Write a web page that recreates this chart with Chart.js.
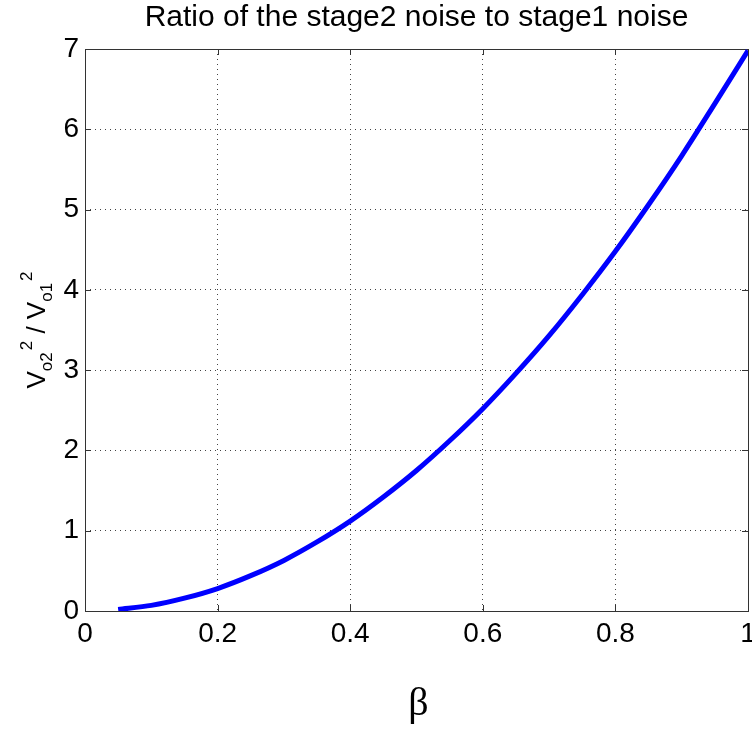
<!DOCTYPE html>
<html>
<head>
<meta charset="utf-8">
<script src="https://cdn.jsdelivr.net/npm/chart.js@4.4.0/dist/chart.umd.min.js"></script>
<style>
    html, body { margin: 0; padding: 0; background: #fff; }
    #wrap { width: 752px; height: 747px; }
</style>
</head>
<body>
<div id="wrap"><canvas id="chart-noise-ratio"></canvas></div>
<script>
const titleText = 'Ratio of the stage2 noise to stage1 noise';
const xTitle = 'β';

const beta = [0.05, 0.10, 0.15, 0.20, 0.25, 0.30, 0.35, 0.40, 0.45, 0.50,
              0.55, 0.60, 0.65, 0.70, 0.75, 0.80, 0.85, 0.90, 0.95, 1.00];
const ratio = [0.02, 0.07, 0.16, 0.28, 0.44, 0.63, 0.86, 1.12, 1.42, 1.75,
               2.12, 2.52, 2.96, 3.43, 3.94, 4.48, 5.06, 5.67, 6.32, 6.98];

const xTicks = [0, 0.2, 0.4, 0.6, 0.8, 1];
const yTicks = [0, 1, 2, 3, 4, 5, 6, 7];

const SANS = '"Liberation Sans", Arial, sans-serif';
const SERIF = '"Liberation Serif", "Times New Roman", serif';

// box round the axes with short inward ticks on every side
const framePlugin = {
    id: 'frame',
    beforeDatasetsDraw(chart) {
        const { ctx, chartArea: a, scales } = chart;
        ctx.save();
        ctx.strokeStyle = '#333';
        ctx.lineWidth = 1;
        ctx.beginPath();
        xTicks.forEach(v => {
            const x = Math.round(scales.x.getPixelForValue(v)) + 0.5;
            ctx.moveTo(x, a.bottom); ctx.lineTo(x, a.bottom - 6);
            ctx.moveTo(x, a.top); ctx.lineTo(x, a.top + 6);
        });
        yTicks.forEach(v => {
            const y = Math.round(scales.y.getPixelForValue(v)) + 0.5;
            ctx.moveTo(a.left, y); ctx.lineTo(a.left + 6, y);
            ctx.moveTo(a.right, y); ctx.lineTo(a.right - 6, y);
        });
        ctx.stroke();
        ctx.strokeRect(Math.round(a.left) + 0.5, Math.round(a.top) + 0.5,
                       Math.round(a.right - a.left), Math.round(a.bottom - a.top));
        ctx.restore();
    }
};

// title, beta label and the V_o2^2 / V_o1^2 label with sub/superscripts
const labelsPlugin = {
    id: 'labels',
    afterDraw(chart) {
        const { ctx, chartArea: a } = chart;
        const cx = (a.left + a.right) / 2;
        ctx.save();
        ctx.fillStyle = '#000';
        ctx.textAlign = 'center';
        ctx.textBaseline = 'middle';
        ctx.font = '30px ' + SANS;
        ctx.fillText(titleText, cx, 18);

        ctx.font = '40px ' + SERIF;
        ctx.fillText(xTitle, cx + 2, 704);

        const parts = [
            { t: 'V', size: 26, dy: 0 },
            { t: 'o2', size: 17, dy: 7 },
            { t: '2', size: 17, dy: -13, gap: 2 },
            { t: ' / ', size: 26, dy: 0 },
            { t: 'V', size: 26, dy: 0 },
            { t: 'o1', size: 17, dy: 7 },
            { t: '2', size: 17, dy: -13, gap: 2 }
        ];
        let total = 0;
        parts.forEach(p => {
            ctx.font = p.size + 'px ' + SANS;
            p.w = ctx.measureText(p.t).width;
            total += p.w + (p.gap || 0);
        });
        ctx.translate(45, (a.top + a.bottom) / 2);
        ctx.rotate(-Math.PI / 2);
        ctx.textAlign = 'left';
        ctx.textBaseline = 'alphabetic';
        let x = -total / 2;
        parts.forEach(p => {
            x += p.gap || 0;
            ctx.font = p.size + 'px ' + SANS;
            ctx.fillText(p.t, x, p.dy);
            x += p.w;
        });
        ctx.restore();
    }
};

const ctx1 = document.getElementById('chart-noise-ratio');

new Chart(ctx1, {
    type: 'line',
    data: {
        datasets: [{
            data: beta.map((b, i) => ({ x: b, y: ratio[i] })),
            borderColor: '#0000ff',
            borderWidth: 5,
            pointRadius: 0,
            tension: 0.3,
            fill: false
        }]
    },
    options: {
        animation: false,
        responsive: true,
        maintainAspectRatio: false,
        layout: {
            padding: { top: 49, right: 4, left: 0, bottom: 0 }
        },
        plugins: {
            legend: { display: false },
            tooltip: { enabled: false },
            title: { display: false }
        },
        scales: {
            x: {
                type: 'linear',
                min: 0,
                max: 1,
                afterBuildTicks: s => { s.ticks = xTicks.map(v => ({ value: v })); },
                afterFit: s => { s.height = 136; s.paddingLeft = 0; s.paddingRight = 0; },
                ticks: {
                    color: '#000',
                    font: { family: SANS, size: 28 },
                    padding: 6,
                    maxRotation: 0,
                    callback: v => String(v)
                },
                grid: { color: '#444', lineWidth: 1, drawTicks: false },
                border: { display: false, dash: [1, 4] }
            },
            y: {
                type: 'linear',
                min: 0,
                max: 7,
                afterBuildTicks: s => { s.ticks = yTicks.map(v => ({ value: v })); },
                afterFit: s => { s.width = 85; s.paddingTop = 0; s.paddingBottom = 0; },
                ticks: {
                    color: '#000',
                    font: { family: SANS, size: 28 },
                    padding: 6,
                    callback: v => String(v)
                },
                grid: { color: '#444', lineWidth: 1, drawTicks: false },
                border: { display: false, dash: [1, 4] }
            }
        }
    },
    plugins: [framePlugin, labelsPlugin]
});
</script>
</body>
</html>
